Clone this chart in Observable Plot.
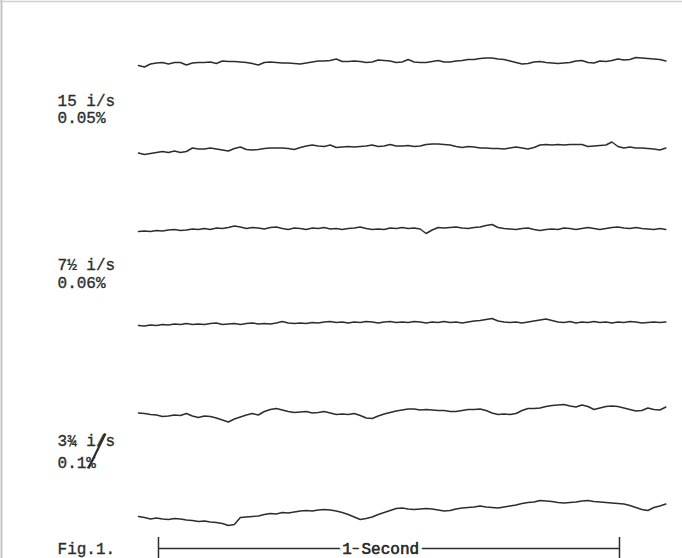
<!DOCTYPE html>
<html><head><meta charset="utf-8">
<script src="https://cdn.jsdelivr.net/npm/d3@7"></script>
<script src="https://cdn.jsdelivr.net/npm/@observablehq/plot@0.6"></script>
<style>body{margin:0;background:#fff}</style>
</head><body><div id="chart"></div>
<script>
// Sample times (seconds) of the flutter traces; the "1 Second" bar spans t = 0..1
const sampleStart = -0.0434;
const sampleStep = 0.013;

// Resting level of each trace (chart units, measured up from the bottom)
const traceLevels = [496, 410, 330, 236, 146, 46];

// Deflection of each trace from its resting level (chart units, up = positive)
const trace1 = [-3,-4.5,-1.5,-0.5,0,-1.5,0,0,-2.5,-0.5, 0,0,0.5,-1,1.5,1,1,0.5,0,-1, -2.5,0,0.5,0,-0.5,-0.5,-1,-1.5,-0.5,0.5, 1.5,1.5,2,3.5,1,1,1.5,1,0,0.5, 2.5,2,1.5,0,0.5,3,0.5,0,0,1, 2,0.5,0.5,1.5,2,3,3,4,4.5,4.5, 3.5,3,1.5,0,-1.5,-1,0.5,1,0,-0.5, -1,-0.5,0,1.5,2,0,-0.5,1.5,1,2, 3.5,2.5,3,5,4.5,4,3.5,3,1.5];
const trace2 = [-4.5,-6,-5,-4,-3,-4,-2.5,-4,-3,0.5, -0.5,-0.5,0.5,-0.5,-1.5,-2.5,0,1.5,-1,-1.5, -1,0,0.5,0.5,0.5,0,-1,1,2.5,3.5, 2.5,2,3.5,1,1.5,2,1.5,2,2.5,3.5, 2,2.5,4,2.5,2.5,3,2,2.5,4,4.5, 4.5,4,3.5,2,1,2,1.5,0.5,0.5,0, 0,-0.5,0.5,1.5,0.5,-0.5,1,3.5,4,3.5, 4,3.5,4,4,4,2,2.5,3,3.5,6.5, 2,0.5,1.5,0.5,0.5,0,-0.5,-1.5,0.5];
const trace3 = [-3,-2.5,-3,-2,-2.5,-1.5,-1,-2,-1.5,-0.5, -1,0,-1,0.5,0,1,2.5,1.5,0,1, 0.5,-0.5,1,1.5,0,-1,0.5,0,-1,0.5, 0,1,-0.5,0,-1,0,0.5,1.5,0,-1, -0.5,-1,0.5,0,1,0,0.5,-0.5,-5,-1.5, 1,0.5,1,1.5,0.5,0,1,1.5,3,4, 1,0,-0.5,-1,0,0.5,-1,-2,-1,-0.5, -1,0.5,0,-1,0,1,0,-1,0,1, 1.5,0.5,0,1,0,-0.5,-1,0,-1];
const trace4 = [-3,-3.5,-2.5,-3,-2,-2.5,-1.5,-2,-1,-2, -1.5,-2,-1,-0.5,-2,-1.5,-1,-2,-1,-0.5, -1.5,-1,-1.5,-0.5,1,-0.5,-1,-0.5,-1,0, -0.5,0.5,1,0,0.5,-0.5,0.5,0,1,0.5, -0.5,0.5,1,0,0.5,0,1,0.5,-0.5,0.5, 0,1,0,0.5,-0.5,0.5,1.5,2,3,4, 1.5,0.5,0,0.5,-0.5,0.5,1.5,2.5,3.5,2, 0.5,0,1,-0.5,0.5,0,1,0,0.5,-0.5, 0.5,0,1,0.5,-0.5,0,0.5,0,0.5];
const trace5 = [-0.5,-1,-2,-2.5,-4,-3.5,-2.5,-3,-1,-3.5, -5,-3.5,-4,-5.5,-7.5,-9.5,-6.5,-4.5,-2.5,-1, -2.5,1,3,4,2.5,1,0,0.5,1,-0.5, 0,1,-0.5,-2,-1.5,-2,-1,-3,-5.5,-6, -3.5,-1.5,0,1.5,2.5,3.5,3.5,2.5,3,2.5, 2,2,1,1,2,3,3,3.5,2,-0.5, -2,-1.5,-2,-1,2,4,4,4.5,6,7, 7.5,8,6.5,5.5,7.5,6,3,4.5,6,6.5, 6,4.5,3,1.5,2,4.5,3,2.5,5.5];
const trace6 = [-4,-5,-6.5,-5.5,-6.5,-7,-6,-6.5,-7.5,-8, -9,-8.5,-9.5,-10,-11,-13,-12,-5,-4.5,-4, -3.5,-2,-1,-1.5,0,-0.5,0.5,1.5,2,1.5, 2.5,3,2.5,1.5,0,-2,-4.5,-7,-6,-4.5, -2,0,2,4,4.5,3.5,3,3.5,4,3.5, 2.5,1.5,2,3.5,4.5,5,5.5,6.5,5.5,5, 4.5,5.5,6.5,7.5,9,10,10.5,12,11.5,11, 10,9.5,10,10.5,11.5,12,11,10.5,10,9.5, 9,8.5,7,5,3,2,5,6.5,8.5];
const traces = [trace1, trace2, trace3, trace4, trace5, trace6];

// Labels beside each pair of traces
const speedLabels = ["15 i/s", "7½ i/s", "3¾ i/s"];
const flutterLabels = ["0.05%", "0.06%", "0.1%"];
const hasOverstrike = [false, false, true];
const speedLabelLevels = [453, 289, 113];
const flutterLabelLevels = [436, 271, 91];
const labelTime = -0.219;

// Time-scale bar and caption
const barTimes = [0, 1];
const barLevel = 10;
const barTickSpan = [0, 21];
const barLabel = "1 Second";
const barLabelTime = 0.482;
const figureLabel = "Fig.1.";
const figureLabelLevel = 5;

const xDomain = [-0.3427, 1.1367];
const yDomain = [0, 558];

const rows = traces.flatMap((vals, k) =>
  vals.map((d, i) => ({trace: k, t: sampleStart + i * sampleStep, v: traceLevels[k] + d})));

const labelRows = speedLabels.map((s, i) => ({s, f: flutterLabels[i], over: hasOverstrike[i], ys: speedLabelLevels[i], yf: flutterLabelLevels[i]}));

const font = "'Liberation Mono', 'DejaVu Sans Mono', monospace";
const ink = "#2b2e2c";
const txt = {textAnchor: "start", lineAnchor: "bottom", fontSize: 16, fill: ink, stroke: ink, strokeWidth: 0.35, fontFamily: font};

const plot = Plot.plot({
  width: 682,
  height: 558,
  margin: 0,
  x: {domain: xDomain, axis: null},
  y: {domain: yDomain, axis: null},
  style: {background: "#fff", fontFamily: font},
  marks: [
    Plot.ruleX([xDomain[0]], {stroke: "#c4c4c4", strokeWidth: 2, dx: 1}),
    Plot.ruleY([yDomain[1]], {stroke: "#d0d0d0", strokeWidth: 1.5, dy: 1}),
    Plot.line(rows, {x: "t", y: "v", z: "trace", stroke: ink, strokeWidth: 1.5, strokeLinejoin: "round"}),
    Plot.text(labelRows, {x: () => labelTime, y: "ys", text: "s", ...txt}),
    Plot.text(labelRows, {x: () => labelTime, y: "yf", text: "f", ...txt}),
    // typewriter overstrike: the slash of "i/s" run down through "0.1%"
    Plot.link(labelRows.filter(d => d.over), {
      x1: () => labelTime + 0.104, y1: d => d.ys + 12,
      x2: () => labelTime + 0.067, y2: d => d.yf - 1,
      stroke: ink, strokeWidth: 2.2
    }),
    Plot.ruleY([barLevel], {x1: barTimes[0], x2: barTimes[1], stroke: ink, strokeWidth: 1.3}),
    Plot.ruleX(barTimes, {y1: barTickSpan[0], y2: barTickSpan[1], stroke: ink, strokeWidth: 1.5}),
    Plot.text([barLabel], {x: barLabelTime, y: barLevel, text: d => d, fontSize: 16, fill: ink, stroke: "#fff", strokeWidth: 8, fontFamily: font}),
    Plot.text([barLabel], {x: barLabelTime, y: barLevel, text: d => d, fontSize: 16, fill: ink, stroke: ink, strokeWidth: 0.35, fontFamily: font}),
    Plot.text([figureLabel], {x: labelTime, y: figureLabelLevel, text: d => d, ...txt})
  ]
});
document.getElementById("chart").append(plot);
</script>
</body></html>
